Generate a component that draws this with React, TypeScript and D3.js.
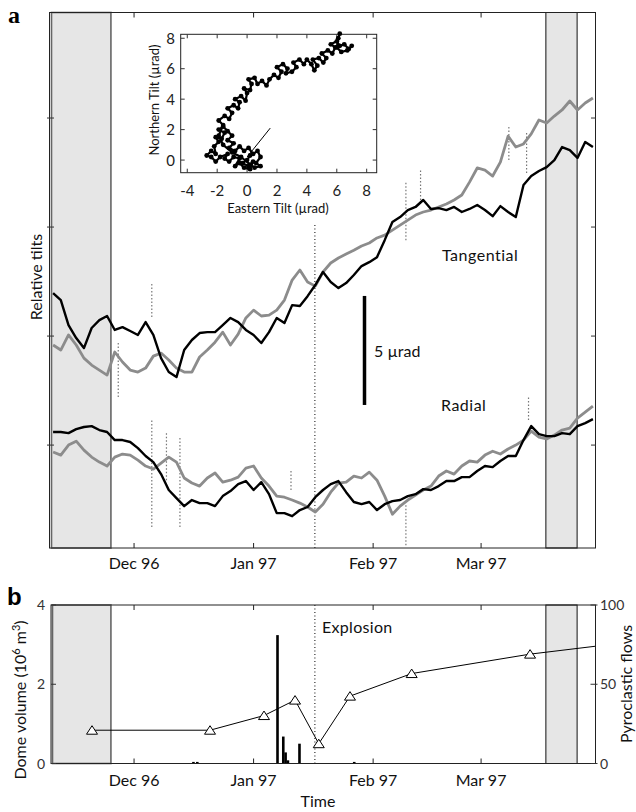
import React from "react";
import * as d3 from "d3";

const W = 636;
const H = 812;
const DEC1 = new Date(1996, 11, 1);
const dayToDate = (d: number) => new Date(DEC1.getTime() + d * 86400000);

// ---------- Panel a: tilts, sampled every 2 days from 10 Nov 1996 (µrad, relative) ----------
const tiltStartDay = -21;
const tiltStepDays = 2;
const tangentialBlack = [
  11.97, 11.65, 10.5, 9.91, 9.45, 10.37, 10.73, 10.92, 10.28, 10.41,
  10.23, 10.05, 10.64, 10.05, 8.99, 8.35, 8.12, 9.36, 9.82, 10.14,
  10.18, 10.18, 10.5, 10.83, 10.64, 10.28, 10.05, 9.68, 10.18, 10.83,
  10.6, 11.42, 11.38, 11.83, 12.34, 12.94, 12.48, 12.2, 12.43, 12.8,
  13.21, 13.39, 13.62, 14.4, 15.23, 15.46, 15.78, 15.92, 16.24, 15.83,
  15.87, 15.78, 15.92, 15.69, 15.83, 16.01, 15.78, 15.5, 15.96, 15.69,
  15.46, 16.93, 17.34, 17.57, 17.75, 18.07, 18.67, 18.53, 18.17, 18.9, 18.67,
];
const tangentialGray = [
  9.59, 9.36, 10.05, 9.59, 8.99, 8.67, 8.44, 8.21, 9.27, 8.81,
  8.44, 8.35, 8.53, 9.08, 9.22, 8.9, 8.53, 8.35, 8.35, 9.04,
  9.36, 9.72, 10.18, 9.59, 10.09, 10.83, 11.19, 10.92, 10.96, 11.19,
  11.65, 12.57, 13.03, 12.48, 12.29, 12.94, 13.35, 13.58, 13.76, 13.94,
  14.13, 14.27, 14.5, 14.63, 14.86, 15.09, 15.32, 15.55, 15.69, 15.78,
  15.92, 16.06, 16.24, 16.47, 17.06, 17.71, 17.61, 17.34, 17.98, 19.17,
  18.67, 18.81, 19.27, 19.91, 19.77, 20.09, 20.37, 20.78, 20.37, 20.69, 20.92,
];
const radialBlack = [
  5.6, 5.6, 5.55, 5.73, 5.83, 5.87, 5.69, 5.6, 5.23, 5.23,
  5.14, 4.86, 4.5, 4.22, 3.67, 2.94, 2.57, 2.2, 2.48, 2.34,
  2.34, 2.2, 2.66, 2.89, 3.21, 3.35, 2.94, 3.3, 2.75, 1.88,
  1.88, 1.74, 2.02, 2.16, 2.61, 2.94, 3.21, 3.35, 2.84, 2.39,
  2.29, 2.39, 2.02, 2.29, 2.43, 2.48, 2.66, 2.75, 2.98, 2.94,
  3.12, 3.35, 3.35, 3.53, 3.53, 3.81, 4.04, 3.99, 4.27, 4.5,
  4.5, 5.23, 5.87, 5.5, 5.41, 5.41, 5.55, 5.5, 5.87, 6.01, 6.19,
];
const radialGray = [
  4.68, 4.54, 5.0, 5.18, 4.77, 4.45, 4.22, 4.04, 4.45, 4.59,
  4.54, 4.31, 4.04, 3.9, 4.17, 4.45, 4.22, 3.49, 3.26, 3.12,
  3.49, 3.72, 3.3, 3.39, 3.53, 3.94, 4.04, 3.49, 3.12, 2.66,
  2.61, 2.48, 2.34, 2.16, 1.93, 2.29, 2.84, 3.26, 3.3, 3.58,
  3.49, 3.76, 3.39, 2.66, 1.83, 2.2, 2.48, 2.71, 2.94, 3.12,
  3.58, 3.81, 3.67, 4.04, 4.27, 4.22, 4.54, 4.72, 4.59, 4.82,
  5.0, 5.23, 5.64, 5.37, 5.28, 5.46, 5.69, 5.78, 6.24, 6.51, 6.79,
];
// isolated spikes (day from 1 Dec 1996, low, high)
const spikeDays = [-4.1, 4.6, 4.6, 8.4, 11.9, 40.7, 70.5, 70.5, 74.3, 97.2, 101.8, 102.3];
const spikeLow = [7.2, 10.87, 1.24, 3.39, 1.24, 2.94, 14.4, 0.41, 16.24, 18.07, 17.48, 6.15];
const spikeHigh = [9.68, 12.48, 6.15, 5.55, 5.37, 3.85, 17.06, 2.25, 17.61, 19.59, 19.31, 7.2];

const monthTickDays = [0, 31, 62, 90];
const monthTickLabels = ["Dec 96", "Jan 97", "Feb 97", "Mar 97"];
const tiltTicks = [5, 10, 15, 20];
const gapDays = [[-21.8, -6.0], [106.8, 114.9]];
const explosionDay = 46.9;
const scaleBarBase = 6.84;
const scaleBarLength = 5;

// ---------- Inset: eastern vs northern tilt (µrad) ----------
const insetEast = [
  0.2, 0.0, -0.3, 0.1, 0.4, 0.2, -0.2, -0.5, -0.8, -0.5, -0.9, -1.2, -1.5, -1.3, -1.8, -2.1, -2.4, -2.7,
  -2.4, -2.1, -2.2, -1.9, -2.1, -1.7, -1.5, -1.9, -1.6, -1.3, -1.0, -1.3, -0.9, -1.2, -0.8, -0.5, -0.2,
  0.1, 0.4, 0.7, 0.9, 0.6, 0.9, 0.5, 0.2,
  -0.4, -1.0, -1.6, -1.9, -1.6, -1.9, -1.5, -1.2, -1.0, -1.3, -0.9, -0.6, -0.5, -0.8, -0.4, -0.1, 0.0,
  -0.2, 0.2, 0.3, 0.1, 0.5, 0.7, 1.0, 1.3, 1.5, 1.8, 2.1, 2.3, 2.0, 2.4, 2.7, 2.6, 3.0, 3.3, 3.1, 3.5,
  3.8, 4.0, 4.3, 4.5, 4.7, 4.4, 4.8, 5.1, 5.3, 5.0, 5.4, 5.7, 5.9, 5.6, 6.0, 6.2, 6.5, 6.8, 7.0, 6.7,
  6.3, 6.0, 6.1, 6.2,
];
const insetNorth = [
  0.3, 0.0, -0.2, -0.4, -0.1, -0.6, -0.5, -0.2, -0.4, 0.1, 0.2, -0.1, 0.1, 0.4, 0.2, -0.1, 0.2, 0.3,
  0.6, 0.4, 0.9, 1.2, 1.5, 1.4, 1.8, 2.0, 2.2, 1.9, 1.6, 1.3, 1.1, 0.8, 0.6, 0.9, 0.6,
  0.8, 0.4, 0.6, 0.2, -0.2, -0.4, -0.5, -0.3,
  0.2, 0.5, 1.0, 1.6, 2.3, 2.6, 2.9, 2.7, 3.1, 3.4, 3.6, 3.4, 3.8, 4.0, 4.2, 3.9, 4.4,
  4.7, 4.6, 5.0, 5.3, 5.4, 5.0, 5.2, 4.9, 5.3, 5.6, 5.4, 5.8, 6.1, 6.3, 6.0, 5.7, 5.8, 6.1, 6.4, 6.6,
  6.3, 6.6, 6.3, 5.9, 6.2, 6.6, 6.7, 6.4, 6.7, 7.0, 7.2, 7.0, 7.4, 7.6, 7.8, 7.5, 7.6, 7.3, 7.5, 7.2,
  7.1, 7.4, 8.0, 8.3,
];
const insetJumpEast = [0.0, 1.55];
const insetJumpNorth = [0.2, 2.1];
const insetXTicks = [-4, -2, 0, 2, 4, 6, 8];
const insetYTicks = [0, 2, 4, 6, 8];

// ---------- Panel b ----------
const domeDays = [-10.9, 19.7, 33.7, 41.75, 47.9, 56.0, 72.0, 102.7, 119.7];
const domeVolume = [0.84, 0.84, 1.21, 1.6, 0.5, 1.7, 2.27, 2.76, 2.96];
const domeMarked = [true, true, true, true, true, true, true, true, false];
const flowDays = [15.4, 16.4, 37.2, 38.7, 39.3, 39.9, 42.9, 57.1];
const flowCounts = [1, 1, 81, 17, 7, 2, 12.5, 1];
const domeTicks = [0, 2, 4];
const flowTicks = [0, 50, 100];

const FONT = "Lato, 'Open Sans', sans-serif";

export default function App() {
  const x = d3.scaleTime().domain([dayToDate(-21.8), dayToDate(119.8)]).range([50, 596]);
  const xd = (d: number) => x(dayToDate(d));
  const aTop = 12.5, aBottom = 548, aLeft = 50, aRight = 596;
  const bTop = 605, bBottom = 763.5, bLeft = 51, bRight = 595.5;
  const yA = d3.scaleLinear().domain([0.28, 24.84]).range([aBottom, aTop]);
  const yB = d3.scaleLinear().domain([0, 4]).range([bBottom, bTop]);
  const yF = d3.scaleLinear().domain([0, 100]).range([bBottom, bTop]);
  const xi = d3.scaleLinear().domain([-4.44, 8.67]).range([180.7, 376.7]);
  const yi = d3.scaleLinear().domain([-0.83, 8.26]).range([172.7, 34.3]);

  const tiltDates = d3.range(tangentialBlack.length).map((i) => dayToDate(tiltStartDay + i * tiltStepDays));
  const tiltLine = d3
    .line<number>()
    .x((_, i) => x(tiltDates[i]))
    .y((v) => yA(v));

  const insetPts = insetEast.map((e, i) => [e, insetNorth[i]] as [number, number]);
  const insetLine = d3
    .line<[number, number]>()
    .x((p) => xi(p[0]))
    .y((p) => yi(p[1]));
  const jumpPts = insetJumpEast.map((e, i) => [e, insetJumpNorth[i]] as [number, number]);

  const domeLine = d3
    .line<number>()
    .x((_, i) => xd(domeDays[i]))
    .y((v) => yB(v));

  const tri = "M0,-4.5 L5.5,4 L-5.5,4 Z";

  return (
    <svg width={W} height={H} style={{ position: "absolute", left: 0, top: 0, background: "#fff" }} fontFamily={FONT}>
      <rect x={0} y={0} width={W} height={H} fill="#fff" />
      {/* ================= Panel a ================= */}
      <text x={8} y={23} fontFamily="'Liberation Serif', serif" fontWeight="bold" fontSize={24}>a</text>
      {gapDays.map((g, i) => (
        <rect key={i} x={Math.max(xd(g[0]), aLeft + 1.5)} y={aTop} width={xd(g[1]) - Math.max(xd(g[0]), aLeft + 1.5)} height={aBottom - aTop}
          fill="#e6e6e6" stroke={i === 0 ? "#666" : "#111"} strokeWidth={i === 0 ? 1.6 : 1} />
      ))}
      <line x1={xd(explosionDay)} x2={xd(explosionDay)} y1={225} y2={aBottom} stroke="#000" strokeWidth={1} strokeDasharray="1,2.5" />
      {spikeDays.map((d, i) => (
        <line key={i} x1={xd(d)} x2={xd(d)} y1={yA(spikeLow[i])} y2={yA(spikeHigh[i])} stroke="#777" strokeWidth={1.2} strokeDasharray="1.5,2" />
      ))}
      <path d={tiltLine(radialGray) || ""} fill="none" stroke="#8c8c8c" strokeWidth={2.8} strokeLinejoin="round" />
      <path d={tiltLine(tangentialGray) || ""} fill="none" stroke="#8c8c8c" strokeWidth={2.8} strokeLinejoin="round" />
      <path d={tiltLine(radialBlack) || ""} fill="none" stroke="#000" strokeWidth={2.4} strokeLinejoin="round" />
      <path d={tiltLine(tangentialBlack) || ""} fill="none" stroke="#000" strokeWidth={2.4} strokeLinejoin="round" />
      <rect x={aLeft - 0.5} y={aTop} width={aRight - aLeft} height={aBottom - aTop} fill="none" stroke="#222" strokeWidth={1} />
      {monthTickDays.map((d, i) => (
        <g key={i}>
          <line x1={xd(d)} x2={xd(d)} y1={aBottom} y2={aBottom - 5} stroke="#222" />
          <line x1={xd(d)} x2={xd(d)} y1={aTop} y2={aTop + 5} stroke="#222" />
          <text x={xd(d)} y={569} textAnchor="middle" fontSize={16} fill="#111">{monthTickLabels[i]}</text>
        </g>
      ))}
      {tiltTicks.map((t) => (
        <g key={t}>
          <line x1={aLeft - 3} x2={aLeft + 4} y1={yA(t)} y2={yA(t)} stroke="#333" />
          <line x1={aRight - 5} x2={aRight} y1={yA(t)} y2={yA(t)} stroke="#333" />
        </g>
      ))}
      <text transform={`translate(42,277) rotate(-90)`} textAnchor="middle" fontSize={16} fill="#111">Relative tilts</text>
      <line x1={364.5} x2={364.5} y1={yA(scaleBarBase)} y2={yA(scaleBarBase + scaleBarLength)} stroke="#000" strokeWidth={3.5} />
      <text x={374} y={357} fontSize={16} fill="#111">5 µrad</text>
      <text x={442} y={261} fontSize={16} fill="#111" letterSpacing={0.5}>Tangential</text>
      <text x={441} y={411} fontSize={16} fill="#111" letterSpacing={0.5}>Radial</text>

      {/* ================= Inset ================= */}
      <rect x={180.7} y={34.3} width={196} height={138.4} fill="#fff" stroke="#222" strokeWidth={1} />
      {insetXTicks.map((t) => (
        <g key={t}>
          <line x1={xi(t)} x2={xi(t)} y1={172.7} y2={168.7} stroke="#333" />
          <line x1={xi(t)} x2={xi(t)} y1={34.3} y2={38.3} stroke="#333" />
          <text x={xi(t)} y={196} textAnchor="middle" fontSize={15} fill="#222">{t}</text>
        </g>
      ))}
      {insetYTicks.map((t) => (
        <g key={t}>
          <line x1={180.7} x2={184.7} y1={yi(t)} y2={yi(t)} stroke="#333" />
          <line x1={376.7} x2={372.7} y1={yi(t)} y2={yi(t)} stroke="#333" />
          <text x={175} y={yi(t) + 5.5} textAnchor="end" fontSize={15} fill="#222">{t}</text>
        </g>
      ))}
      <path d={insetLine(insetPts) || ""} fill="none" stroke="#000" strokeWidth={2.2} strokeLinejoin="round" />
      {insetPts.map((p, i) => (
        <circle key={i} cx={xi(p[0])} cy={yi(p[1])} r={2.4} fill="#000" />
      ))}
      <path d={insetLine(jumpPts) || ""} fill="none" stroke="#000" strokeWidth={1} />
      <text x={278} y={213} textAnchor="middle" fontSize={13} fill="#111">Eastern Tilt (µrad)</text>
      <text transform={`translate(159,100) rotate(-90)`} textAnchor="middle" fontSize={13} fill="#111">Northern Tilt (µrad)</text>

      {/* ================= Panel b ================= */}
      <text x={7} y={605} fontFamily="'Liberation Sans', sans-serif" fontWeight="bold" fontSize={24}>b</text>
      {gapDays.map((g, i) => (
        <rect key={i} x={Math.max(xd(g[0]), bLeft + 1.5)} y={bTop} width={xd(g[1]) - Math.max(xd(g[0]), bLeft + 1.5)} height={bBottom - bTop}
          fill="#e6e6e6" stroke={i === 0 ? "#666" : "#111"} strokeWidth={i === 0 ? 1.6 : 1} />
      ))}
      <line x1={xd(explosionDay)} x2={xd(explosionDay)} y1={bTop} y2={bBottom} stroke="#000" strokeWidth={1} strokeDasharray="1,2.5" />
      <text x={322} y={633} fontSize={16} fill="#111" letterSpacing={0.3}>Explosion</text>
      {flowDays.map((d, i) => (
        <rect key={i} x={xd(d) - 1.3} y={yF(flowCounts[i])} width={2.6} height={bBottom - yF(flowCounts[i])} fill="#000" />
      ))}
      <path d={domeLine(domeVolume) || ""} fill="none" stroke="#000" strokeWidth={1} />
      {domeVolume.map((v, i) =>
        domeMarked[i] ? (
          <path key={i} d={tri} transform={`translate(${xd(domeDays[i])},${yB(v)})`} fill="#fff" stroke="#000" strokeWidth={1} />
        ) : null
      )}
      <rect x={bLeft} y={bTop} width={bRight - bLeft} height={bBottom - bTop} fill="none" stroke="#222" strokeWidth={1} />
      {monthTickDays.map((d, i) => (
        <g key={i}>
          <line x1={xd(d)} x2={xd(d)} y1={bBottom} y2={bBottom - 5} stroke="#222" />
          <line x1={xd(d)} x2={xd(d)} y1={bTop} y2={bTop + 5} stroke="#222" />
          <text x={xd(d)} y={786} textAnchor="middle" fontSize={16} fill="#111">{monthTickLabels[i]}</text>
        </g>
      ))}
      {domeTicks.map((t) => (
        <g key={t}>
          <line x1={bLeft} x2={bLeft + 5} y1={yB(t)} y2={yB(t)} stroke="#333" />
          <text x={45} y={yB(t) + 5} textAnchor="end" fontSize={14} fill="#333">{t}</text>
        </g>
      ))}
      {flowTicks.map((t) => (
        <g key={t}>
          <line x1={bRight - 5} x2={bRight + 2} y1={yF(t)} y2={yF(t)} stroke="#333" />
          <text x={600} y={yF(t) + 5} fontSize={14} fill="#333">{t}</text>
        </g>
      ))}
      <text transform={`translate(26,700) rotate(-90)`} textAnchor="middle" fontSize={16} fill="#111">
        Dome volume (10<tspan dy={-6} fontSize={11}>6</tspan><tspan dy={6}> m</tspan><tspan dy={-6} fontSize={11}>3</tspan><tspan dy={6}>)</tspan>
      </text>
      <text transform={`translate(632,684) rotate(-90)`} textAnchor="middle" fontSize={16} fill="#111">Pyroclastic flows</text>
      <text x={318} y={807} textAnchor="middle" fontSize={16} fill="#111">Time</text>
    </svg>
  );
}
